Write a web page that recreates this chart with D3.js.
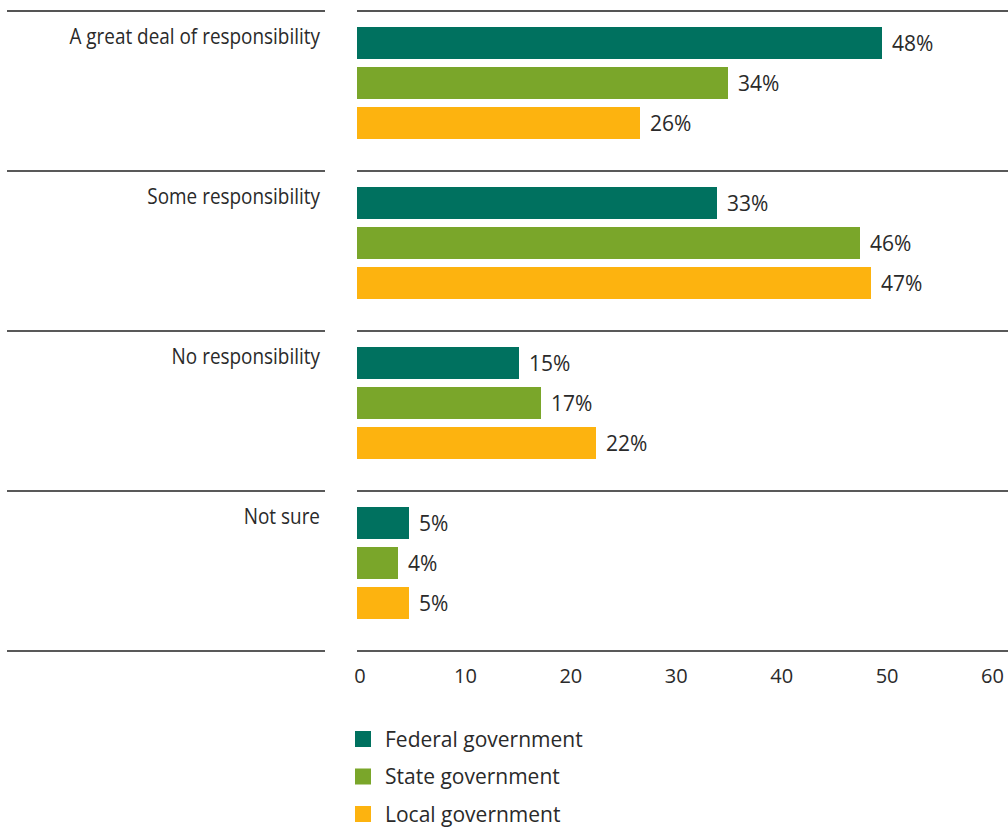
<!DOCTYPE html>
<html>
<head>
<meta charset="utf-8">
<script src="https://cdn.jsdelivr.net/npm/d3@7"></script>
<style>
  body { margin: 0; background: #fff; }
  svg { display: block; }
  .cat, .val, .leg, .tick text { font-family: "Open Sans", sans-serif; fill: #2a2a2a; }
</style>
</head>
<body>
<svg width="1008" height="827"></svg>
<script>
const categories = ["A great deal of responsibility", "Some responsibility", "No responsibility", "Not sure"];
const series = ["Federal government", "State government", "Local government"];
const federal = [48, 33, 15, 5];
const state = [34, 46, 17, 4];
const local = [26, 47, 22, 5];
const tickValues = [0, 10, 20, 30, 40, 50, 60];
const colors = ["#00715f", "#7aa62a", "#fdb30f"];

const values = [federal, state, local];
const svg = d3.select("svg");

const y = d3.scaleBand()
    .domain(categories)
    .range([11, 651]);

const inner = d3.scaleBand()
    .domain(series)
    .range([16, 128])
    .paddingInner(0.2);

// bars and axis labels are spaced a little differently in the original
const x = d3.scaleLinear().domain([0, 60]).range([354, 1014]);
const xAxis = d3.scaleLinear().domain([0, 60]).range([359.5, 992]);
const barLeft = 357;

// separator lines
const lineYs = categories.map(c => y(c)).concat([y.range()[1]]);
svg.append("g")
    .selectAll("g")
    .data(lineYs)
    .enter().append("g")
    .each(function(d, i) {
        const g = d3.select(this);
        const stroke = i === 0 ? "#555" : "#222";
        const w = i === 0 ? 2 : 1.4;
        g.append("line").attr("x1", 7).attr("x2", 325).attr("y1", d).attr("y2", d)
            .attr("stroke", stroke).attr("stroke-width", w);
        g.append("line").attr("x1", barLeft).attr("x2", 1008).attr("y1", d).attr("y2", d)
            .attr("stroke", stroke).attr("stroke-width", w);
    });

const groups = svg.append("g")
    .selectAll("g")
    .data(categories)
    .enter().append("g")
    .attr("transform", d => `translate(0,${y(d)})`);

// condensed look for the category labels
groups.append("text")
    .attr("class", "cat")
    .attr("transform", "translate(320,33) scale(0.88,1)")
    .attr("text-anchor", "end")
    .attr("font-size", 21.5)
    .text(d => d);

const rows = groups.selectAll("g.bar")
    .data((c, ci) => series.map((s, si) => ({ s, si, v: values[si][ci] })))
    .enter().append("g")
    .attr("class", "bar");

rows.append("rect")
    .attr("x", barLeft)
    .attr("y", d => inner(d.s))
    .attr("width", d => x(d.v) - barLeft)
    .attr("height", inner.bandwidth())
    .attr("fill", d => colors[d.si]);

rows.append("text")
    .attr("class", "val")
    .attr("x", d => x(d.v) + 10)
    .attr("y", d => inner(d.s) + inner.bandwidth() / 2 + 8)
    .attr("font-size", 21)
    .text(d => d.v + "%");

// x axis
svg.append("g")
    .attr("transform", "translate(0,666)")
    .call(d3.axisBottom(xAxis).tickValues(tickValues).tickSize(0).tickPadding(3))
    .call(g => g.select(".domain").remove())
    .selectAll("text")
    .attr("font-size", 20);

// legend
const legend = svg.append("g")
    .selectAll("g")
    .data(series)
    .enter().append("g")
    .attr("transform", (d, i) => `translate(355,${731 + i * 37.5})`);

legend.append("rect")
    .attr("width", 16)
    .attr("height", 16)
    .attr("fill", (d, i) => colors[i]);

legend.append("text")
    .attr("class", "leg")
    .attr("x", 30)
    .attr("y", 15.5)
    .attr("font-size", 21)
    .text(d => d);
</script>
</body>
</html>
